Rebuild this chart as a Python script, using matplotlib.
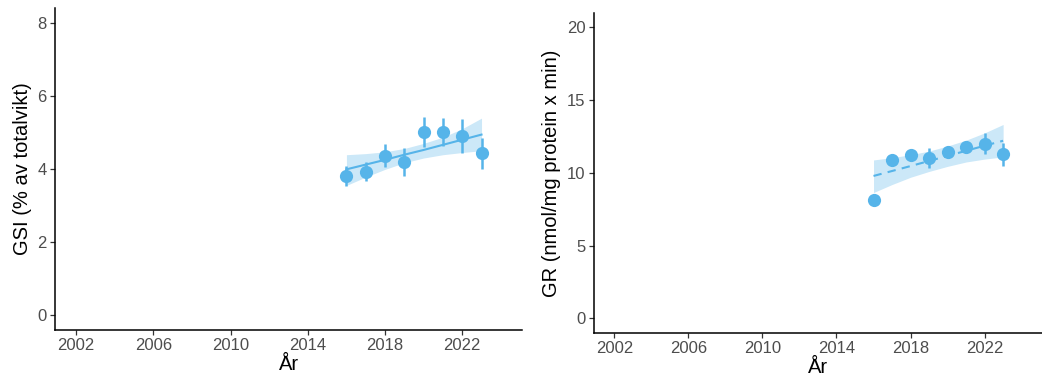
import numpy as np
import matplotlib.pyplot as plt

plt.rcParams['font.family'] = ['Liberation Sans', 'DejaVu Sans']

# data
years = [2016, 2017, 2018, 2019, 2020, 2021, 2022, 2023]

gsi_mean = [3.81, 3.93, 4.36, 4.18, 5.01, 5.00, 4.90, 4.43]
gsi_lo = [3.53, 3.68, 4.05, 3.81, 4.60, 4.63, 4.43, 4.01]
gsi_hi = [4.08, 4.19, 4.67, 4.56, 5.43, 5.40, 5.36, 4.84]
gsi_fit = [3.99, 4.12, 4.25, 4.39, 4.52, 4.66, 4.80, 4.94]
gsi_fit_lo = [3.55, 3.78, 3.99, 4.17, 4.30, 4.39, 4.45, 4.50]
gsi_fit_hi = [4.39, 4.42, 4.47, 4.56, 4.70, 4.87, 5.10, 5.39]

gr_mean = [8.13, 10.89, 11.23, 11.05, 11.44, 11.80, 12.00, 11.28]
gr_lo = [7.95, 10.6, 10.95, 10.36, 11.15, 11.55, 11.30, 10.50]
gr_hi = [8.30, 11.2, 11.5, 11.73, 11.7, 12.05, 12.71, 12.03]
gr_fit = [9.79, 10.13, 10.47, 10.82, 11.17, 11.52, 11.87, 12.21]
gr_fit_lo = [8.65, 9.20, 9.70, 10.10, 10.45, 10.75, 10.95, 11.10]
gr_fit_hi = [10.89, 11.05, 11.25, 11.50, 11.85, 12.25, 12.75, 13.33]

xticks = [2002, 2006, 2010, 2014, 2018, 2022]

col = '#56B4E9'
tick_col = '#4D4D4D'

fig = plt.figure(figsize=(10.42, 3.8), dpi=100)
ax1 = fig.add_axes([0.0528, 0.1316, 0.4482, 0.8474])
ax2 = fig.add_axes([0.570, 0.124, 0.430, 0.842])


def panel(ax, mean, lo, hi, fit, fit_lo, fit_hi, ls, ylim, yticks, ylabel):
    yrs = np.array(years)
    ax.fill_between(yrs, fit_lo, fit_hi, color=col, alpha=0.3, lw=0, zorder=1)
    ax.plot(yrs, fit, color=col, lw=1.5, ls=ls, zorder=2)
    ax.vlines(yrs, lo, hi, color=col, lw=1.8, zorder=3)
    ax.plot(yrs, mean, 'o', color=col, ms=9.5, mec='none', zorder=4)
    ax.set_xlim(2000.9, 2025.1)
    ax.set_ylim(*ylim)
    ax.set_xticks(xticks)
    ax.set_yticks(yticks)
    for s in ['top', 'right']:
        ax.spines[s].set_visible(False)
    for s in ['left', 'bottom']:
        ax.spines[s].set_linewidth(1.1)
        ax.spines[s].set_color('black')
    ax.tick_params(labelsize=12, labelcolor=tick_col, color='#333333',
                   length=3.5, width=0.9, pad=2.5)
    ax.set_xlabel('År', fontsize=14.5, labelpad=1)
    ax.set_ylabel(ylabel, fontsize=14.5, labelpad=4)


panel(ax1, gsi_mean, gsi_lo, gsi_hi, gsi_fit, gsi_fit_lo, gsi_fit_hi, '-',
      (-0.4, 8.4), [0, 2, 4, 6, 8], 'GSI (% av totalvikt)')
panel(ax2, gr_mean, gr_lo, gr_hi, gr_fit, gr_fit_lo, gr_fit_hi, (0, (4, 3)),
      (-1, 21), [0, 5, 10, 15, 20], 'GR (nmol/mg protein x min)')

fig.savefig('out.png', dpi=100)
